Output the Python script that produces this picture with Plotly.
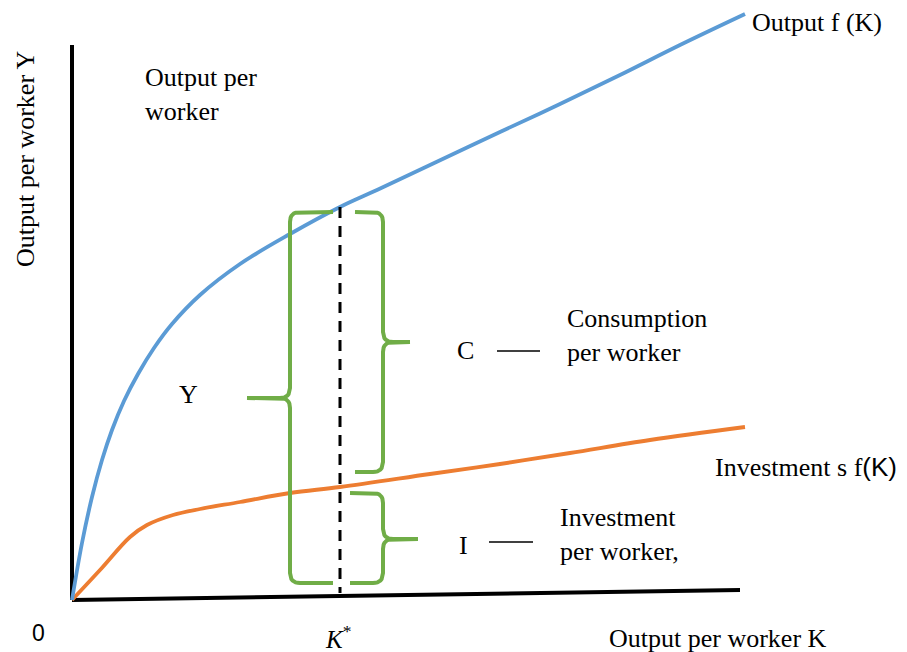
import plotly.graph_objects as go

# ---- data (diagram units: K to the right, Y upward, origin at the axes corner) ----
blue_k = [0, 10, 20, 30, 40, 52, 66, 82, 100, 128, 168, 218, 268, 305, 358, 428, 488, 548, 608, 673]
blue_y = [0, 57, 103, 140, 170, 199, 226, 252, 276, 305, 336, 366, 393, 410, 435, 468, 496, 525, 555, 586]

orange_k = [0, 28, 58, 75, 101, 128, 168, 218, 268, 358, 428, 498, 578, 673]
orange_y = [0, 30, 63, 75, 85, 91, 98, 107, 113, 126, 136, 147, 160, 173]

k_star = 268
y_at_kstar = 393      # output at K*

axis_x_k = [0, 668]
axis_x_y = [0, 10]
axis_y_top = 555

# braces: (stem K, top Y, bottom Y, tip K, tip Y, arm-end K)
brace_Y = (218, 388, 17, 175, 202, 261)
brace_C = (311, 388, 128, 338, 258, 283)
brace_I = (311, 107, 17, 346, 61, 278)

BLUE = "#5B9BD5"
ORANGE = "#ED7D31"
GREEN = "#70AD47"
SERIF = "Liberation Serif, Times New Roman, serif"
SANS = "Liberation Sans, Arial, sans-serif"


def qbez(p0, c, p1, n=8):
    xs, ys = [], []
    for i in range(n + 1):
        t = i / n
        xs.append((1 - t) ** 2 * p0[0] + 2 * (1 - t) * t * c[0] + t ** 2 * p1[0])
        ys.append((1 - t) ** 2 * p0[1] + 2 * (1 - t) * t * c[1] + t ** 2 * p1[1])
    return xs, ys


def brace(xv, yt, yb, xtip, ym, xa, r=10):
    s = 1 if xa > xv else -1
    X, Y = [xa], [yt]
    bx, by = qbez((xv + s * r, yt), (xv, yt), (xv, yt - r))
    X += bx; Y += by
    bx, by = qbez((xv, ym + r), (xv, ym), (xv - s * r, ym))
    X += bx; Y += by
    X += [xtip, xv - s * r]; Y += [ym, ym]
    bx, by = qbez((xv - s * r, ym), (xv, ym), (xv, ym - r))
    X += bx; Y += by
    bx, by = qbez((xv, yb + r), (xv, yb), (xv + s * r, yb))
    X += bx; Y += by
    X += [xa]; Y += [yb]
    return X, Y


fig = go.Figure()

# axes
fig.add_trace(go.Scatter(x=[0, 0], y=[axis_y_top, 0], mode="lines",
                         line=dict(color="black", width=4), hoverinfo="skip"))
fig.add_trace(go.Scatter(x=axis_x_k, y=axis_x_y, mode="lines",
                         line=dict(color="black", width=4), hoverinfo="skip"))

# curves
fig.add_trace(go.Scatter(x=orange_k, y=orange_y, mode="lines", hoverinfo="skip",
                         line=dict(color=ORANGE, width=3.8, shape="spline", smoothing=1.0)))
fig.add_trace(go.Scatter(x=blue_k, y=blue_y, mode="lines", hoverinfo="skip",
                         line=dict(color=BLUE, width=3.8, shape="spline", smoothing=1.0)))

# braces
for b in (brace_Y, brace_C, brace_I):
    bx, by = brace(*b)
    fig.add_trace(go.Scatter(x=bx, y=by, mode="lines",
                             line=dict(color=GREEN, width=4), hoverinfo="skip"))

# dashed K* line
fig.add_trace(go.Scatter(x=[k_star, k_star], y=[y_at_kstar, 7], mode="lines",
                         line=dict(color="black", width=3, dash="11px,8px"), hoverinfo="skip"))

# short connector lines
fig.add_trace(go.Scatter(x=[425, 468], y=[249, 249], mode="lines",
                         line=dict(color="black", width=1.5), hoverinfo="skip"))
fig.add_trace(go.Scatter(x=[417, 461], y=[58, 58], mode="lines",
                         line=dict(color="black", width=1.5), hoverinfo="skip"))


def txt(x, y, s, xanchor="left", size=26, font=SERIF, angle=0):
    fig.add_annotation(x=x, y=y, text=s, showarrow=False, xanchor=xanchor,
                       yanchor="middle", textangle=angle, align="left",
                       font=dict(family=font, size=size, color="black"))


txt(-47, 441, "Output per worker Y", xanchor="center", angle=-90)
txt(71, 506, "Output per<br>worker")
txt(678, 578, "Output f (K)")
txt(116, 206, "Y", xanchor="center")
txt(393, 250, "C", xanchor="center")
txt(493, 265, "Consumption<br>per worker")
txt(641, 133, "Investment s f<span style='font-family:Liberation Sans, Arial, sans-serif'>(K)</span>")
txt(391, 55, "I", xanchor="center")
txt(486, 66, "Investment<br>per worker,")
txt(-34, -33, "0", xanchor="center", size=23, font=SANS)
txt(k_star - 2, -37, "<i>K</i><sup>*</sup>", xanchor="center", size=25)
txt(535, -38, "Output per worker K")

fig.update_layout(
    width=907, height=652, autosize=False,
    margin=dict(l=0, r=0, t=0, b=0),
    paper_bgcolor="white", plot_bgcolor="white",
    showlegend=False,
    hovermode=False,
    xaxis=dict(range=[-72, 835], visible=False, fixedrange=True),
    yaxis=dict(range=[-52, 600], visible=False, fixedrange=True),
)

fig.write_html("out.html", config={"displayModeBar": False},
               post_script="document.body.style.margin='0';")
